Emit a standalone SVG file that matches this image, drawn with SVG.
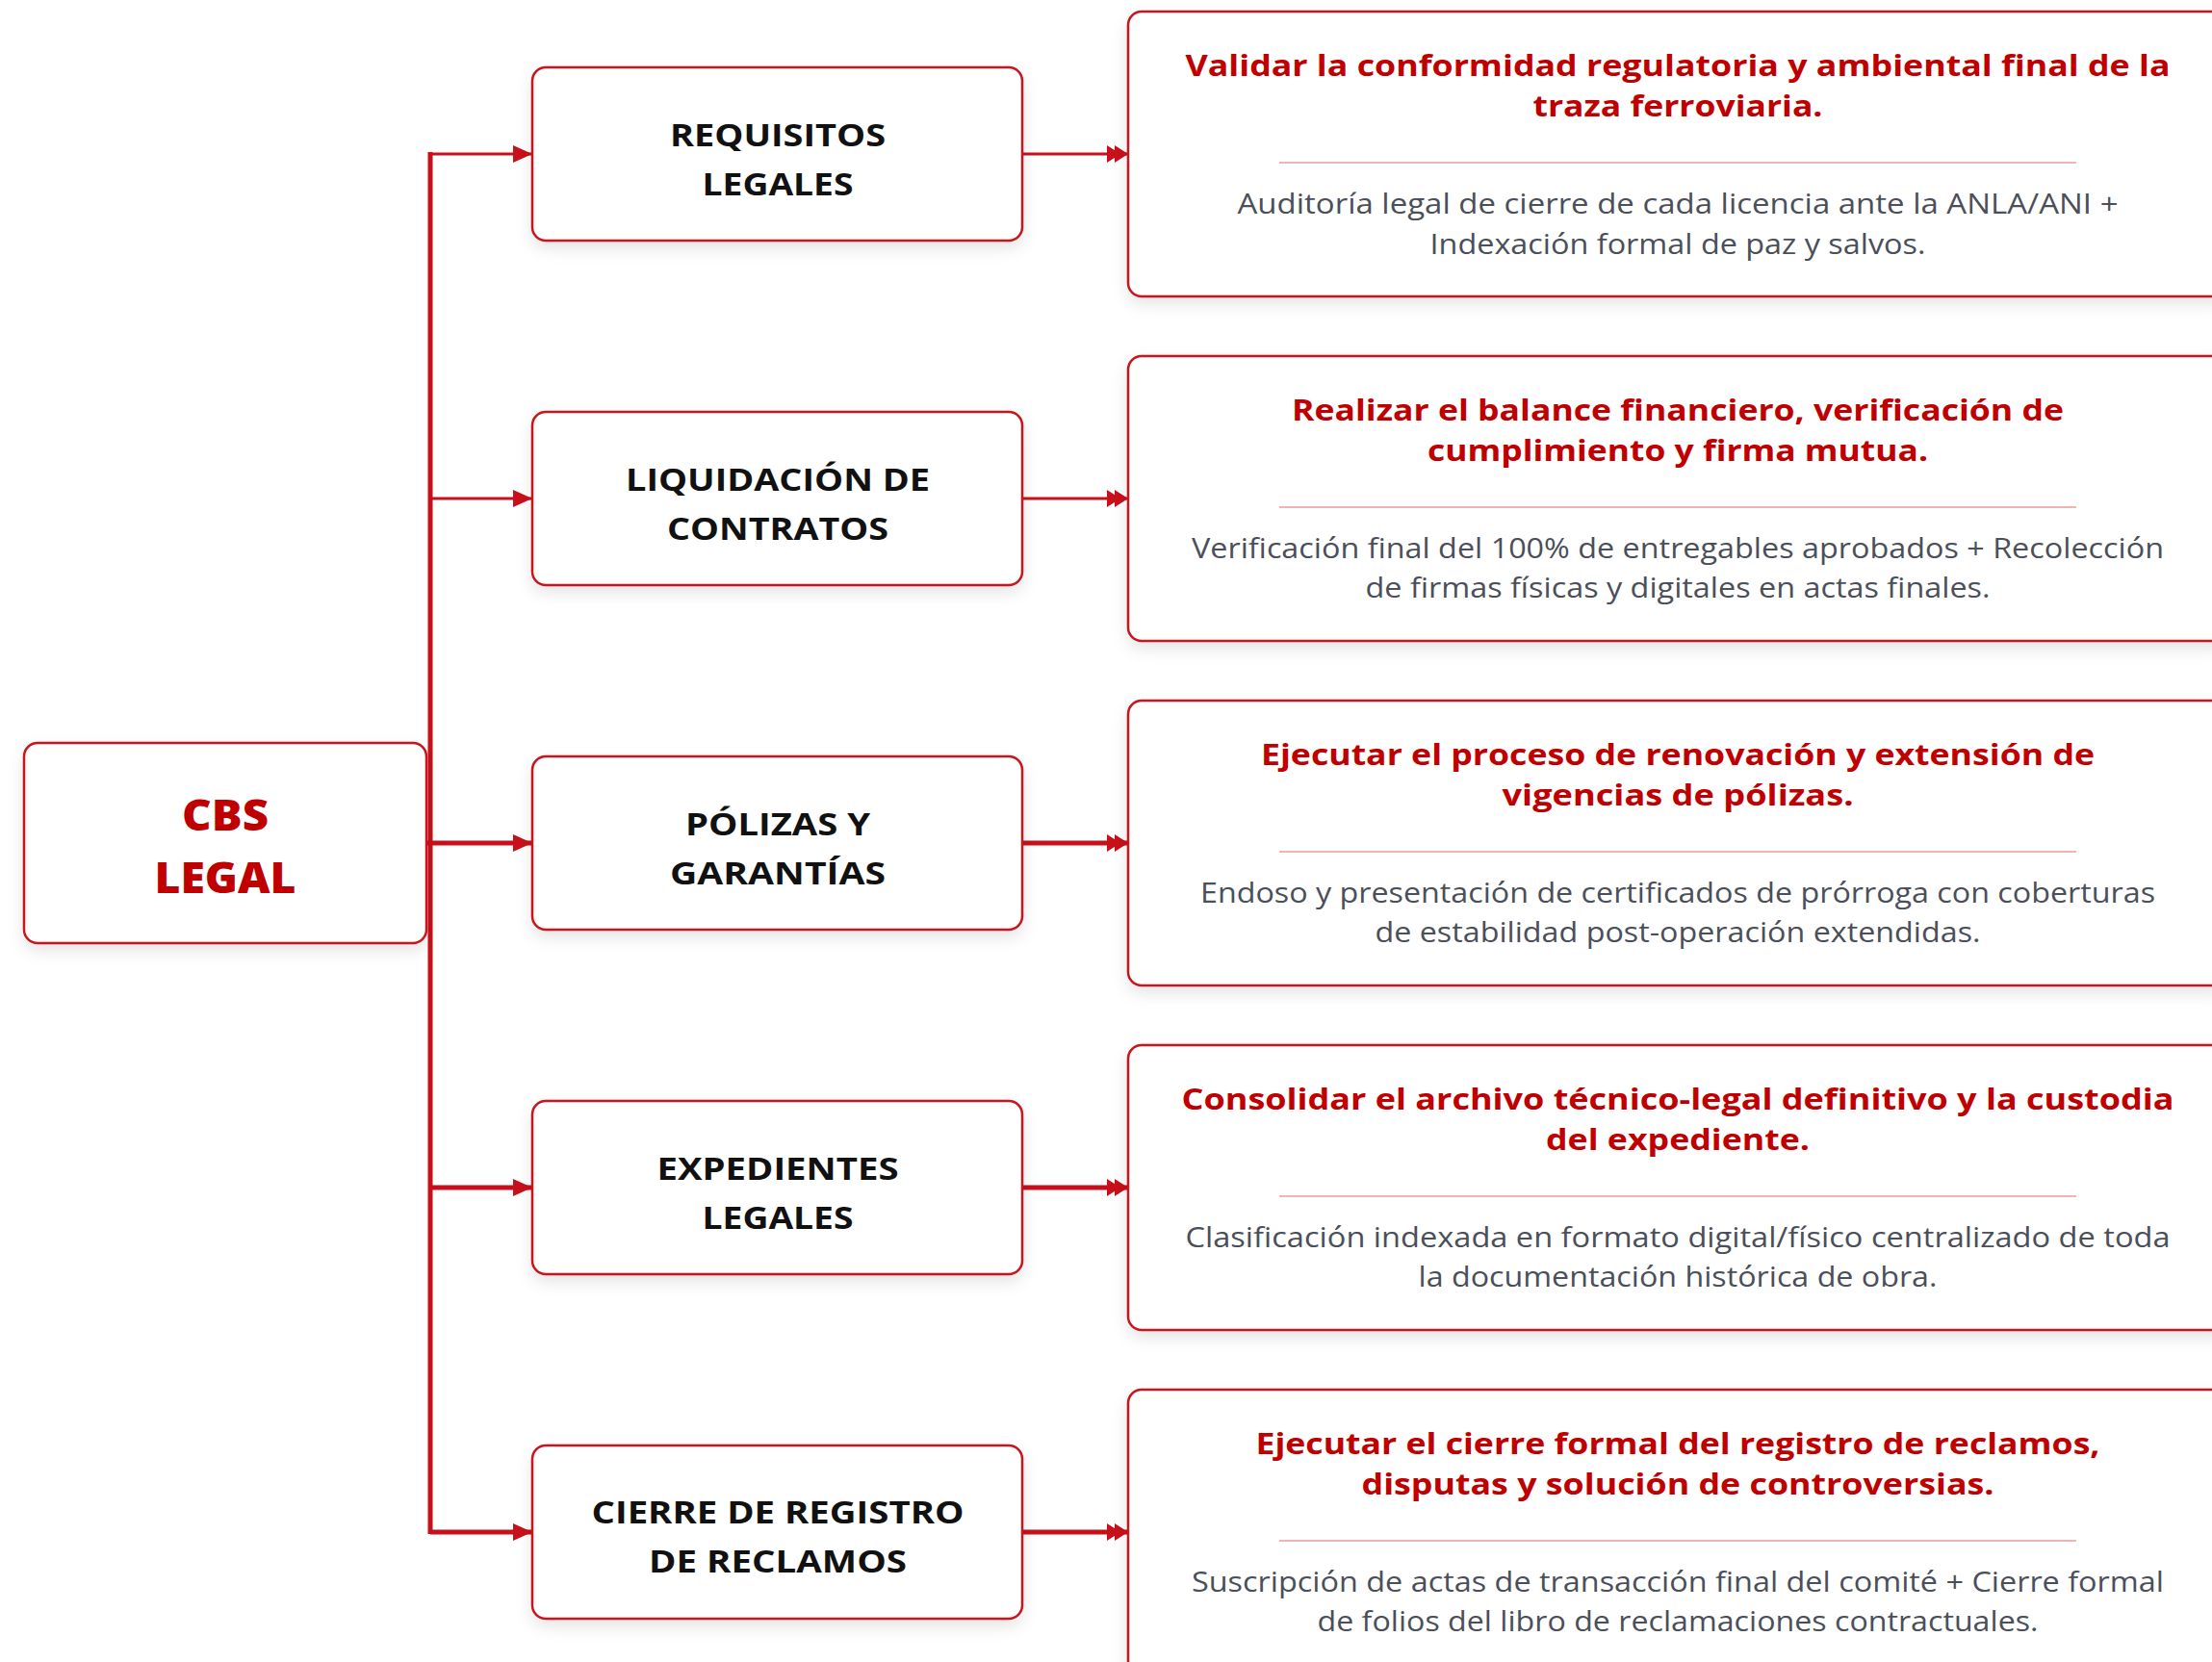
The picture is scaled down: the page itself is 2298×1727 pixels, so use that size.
<svg xmlns="http://www.w3.org/2000/svg" width="2298" height="1727" viewBox="0 0 2298 1727">
<style>
.box{fill:#ffffff;stroke:#c8141c;stroke-width:2.5;filter:url(#sh)}
.root{font-family:"Open Sans","Noto Sans",sans-serif;font-weight:800;font-size:44px;fill:#c00000;text-anchor:middle}
.lvl{font-family:"Open Sans","Noto Sans",sans-serif;font-weight:700;font-size:32px;fill:#111111;text-anchor:middle}
.ttl{font-family:"Open Sans","Noto Sans",sans-serif;font-weight:700;font-size:30px;fill:#c00000;text-anchor:middle}
.bdy{font-family:"Open Sans","Noto Sans",sans-serif;font-weight:400;font-size:29px;fill:#4a4f5a;text-anchor:middle}
.sep{stroke:#f0b4b4;stroke-width:2}
.con{fill:none;stroke:#c8101a;stroke-linejoin:miter}
</style>
<defs>
<filter id="sh" x="-10%" y="-10%" width="120%" height="130%">
<feDropShadow dx="0" dy="7" stdDeviation="8" flood-color="#000000" flood-opacity="0.10"/>
</filter>
<marker id="ah" markerUnits="userSpaceOnUse" markerWidth="20" markerHeight="20" refX="20" refY="10" orient="auto">
<path d="M0,1 L20,10 L0,19 z" fill="#c8101a"/>
</marker>
<marker id="ah2" markerUnits="userSpaceOnUse" markerWidth="22" markerHeight="20" refX="22" refY="10" orient="auto">
<path d="M0,1 L14,10 L0,19 z M8,1 L22,10 L8,19 z" fill="#c8101a"/>
</marker>
</defs>
<rect width="2298" height="1727" fill="#ffffff"/>

<g id="connectors">
<path class="con" stroke-width="5" d="M443,876 H447 M447,158 V1594"/>
<path class="con" stroke-width="3" d="M447,160 H553" marker-end="url(#ah)"/>
<path class="con" stroke-width="3" d="M447,518 H553" marker-end="url(#ah)"/>
<path class="con" stroke-width="5" d="M447,876 H553" marker-end="url(#ah)"/>
<path class="con" stroke-width="5" d="M447,1234 H553" marker-end="url(#ah)"/>
<path class="con" stroke-width="5" d="M447,1592 H553" marker-end="url(#ah)"/>
<path class="con" stroke-width="3" d="M1062,160 H1172" marker-end="url(#ah2)"/>
<path class="con" stroke-width="3" d="M1062,518 H1172" marker-end="url(#ah2)"/>
<path class="con" stroke-width="5" d="M1062,876 H1172" marker-end="url(#ah2)"/>
<path class="con" stroke-width="5" d="M1062,1234 H1172" marker-end="url(#ah2)"/>
<path class="con" stroke-width="5" d="M1062,1592 H1172" marker-end="url(#ah2)"/>
</g>

<g id="node-cbs-legal">
<rect class="box" x="25" y="772" width="418" height="208" rx="14"/>
<text class="root" x="234" y="863" textLength="90" lengthAdjust="spacingAndGlyphs">CBS</text>
<text class="root" x="234" y="928" textLength="147" lengthAdjust="spacingAndGlyphs">LEGAL</text>
</g>

<g id="node-requisitos">
<rect class="box" x="553" y="70" width="509" height="180" rx="14"/>
<text class="lvl" x="808" y="152" textLength="224" lengthAdjust="spacingAndGlyphs">REQUISITOS</text>
<text class="lvl" x="808" y="203" textLength="157" lengthAdjust="spacingAndGlyphs">LEGALES</text>
</g>
<g id="node-liquidacion">
<rect class="box" x="553" y="428" width="509" height="180" rx="14"/>
<text class="lvl" x="808" y="510" textLength="316" lengthAdjust="spacingAndGlyphs">LIQUIDACIÓN DE</text>
<text class="lvl" x="808" y="561" textLength="230" lengthAdjust="spacingAndGlyphs">CONTRATOS</text>
</g>
<g id="node-polizas">
<rect class="box" x="553" y="786" width="509" height="180" rx="14"/>
<text class="lvl" x="808" y="868" textLength="192" lengthAdjust="spacingAndGlyphs">PÓLIZAS Y</text>
<text class="lvl" x="808" y="919" textLength="224" lengthAdjust="spacingAndGlyphs">GARANTÍAS</text>
</g>
<g id="node-expedientes">
<rect class="box" x="553" y="1144" width="509" height="180" rx="14"/>
<text class="lvl" x="808" y="1226" textLength="251" lengthAdjust="spacingAndGlyphs">EXPEDIENTES</text>
<text class="lvl" x="808" y="1277" textLength="157" lengthAdjust="spacingAndGlyphs">LEGALES</text>
</g>
<g id="node-cierre">
<rect class="box" x="553" y="1502" width="509" height="180" rx="14"/>
<text class="lvl" x="808" y="1583" textLength="387" lengthAdjust="spacingAndGlyphs">CIERRE DE REGISTRO</text>
<text class="lvl" x="808" y="1634" textLength="268" lengthAdjust="spacingAndGlyphs">DE RECLAMOS</text>
</g>

<g id="detail-requisitos">
<rect class="box" x="1172" y="12" width="1142" height="296" rx="14"/>
<text class="ttl" x="1743" y="79" textLength="1023" lengthAdjust="spacingAndGlyphs">Validar la conformidad regulatoria y ambiental final de la</text>
<text class="ttl" x="1743" y="121" textLength="301" lengthAdjust="spacingAndGlyphs">traza ferroviaria.</text>
<line class="sep" x1="1329" y1="169" x2="2157" y2="169"/>
<text class="bdy" x="1743" y="222" textLength="915" lengthAdjust="spacingAndGlyphs">Auditoría legal de cierre de cada licencia ante la ANLA/ANI +</text>
<text class="bdy" x="1743" y="264" textLength="515" lengthAdjust="spacingAndGlyphs">Indexación formal de paz y salvos.</text>
</g>
<g id="detail-liquidacion">
<rect class="box" x="1172" y="370" width="1142" height="296" rx="14"/>
<text class="ttl" x="1743" y="437" textLength="802" lengthAdjust="spacingAndGlyphs">Realizar el balance financiero, verificación de</text>
<text class="ttl" x="1743" y="479" textLength="520" lengthAdjust="spacingAndGlyphs">cumplimiento y firma mutua.</text>
<line class="sep" x1="1329" y1="527" x2="2157" y2="527"/>
<text class="bdy" x="1743" y="580" textLength="1010" lengthAdjust="spacingAndGlyphs">Verificación final del 100% de entregables aprobados + Recolección</text>
<text class="bdy" x="1743" y="621" textLength="649" lengthAdjust="spacingAndGlyphs">de firmas físicas y digitales en actas finales.</text>
</g>
<g id="detail-polizas">
<rect class="box" x="1172" y="728" width="1142" height="296" rx="14"/>
<text class="ttl" x="1743" y="795" textLength="866" lengthAdjust="spacingAndGlyphs">Ejecutar el proceso de renovación y extensión de</text>
<text class="ttl" x="1743" y="837" textLength="365" lengthAdjust="spacingAndGlyphs">vigencias de pólizas.</text>
<line class="sep" x1="1329" y1="885" x2="2157" y2="885"/>
<text class="bdy" x="1743" y="938" textLength="992" lengthAdjust="spacingAndGlyphs">Endoso y presentación de certificados de prórroga con coberturas</text>
<text class="bdy" x="1743" y="979" textLength="629" lengthAdjust="spacingAndGlyphs">de estabilidad post-operación extendidas.</text>
</g>
<g id="detail-expedientes">
<rect class="box" x="1172" y="1086" width="1142" height="296" rx="14"/>
<text class="ttl" x="1743" y="1153" textLength="1031" lengthAdjust="spacingAndGlyphs">Consolidar el archivo técnico-legal definitivo y la custodia</text>
<text class="ttl" x="1743" y="1195" textLength="274" lengthAdjust="spacingAndGlyphs">del expediente.</text>
<line class="sep" x1="1329" y1="1243" x2="2157" y2="1243"/>
<text class="bdy" x="1743" y="1296" textLength="1023" lengthAdjust="spacingAndGlyphs">Clasificación indexada en formato digital/físico centralizado de toda</text>
<text class="bdy" x="1743" y="1337" textLength="539" lengthAdjust="spacingAndGlyphs">la documentación histórica de obra.</text>
</g>
<g id="detail-cierre">
<rect class="box" x="1172" y="1444" width="1142" height="296" rx="14"/>
<text class="ttl" x="1743" y="1511" textLength="877" lengthAdjust="spacingAndGlyphs">Ejecutar el cierre formal del registro de reclamos,</text>
<text class="ttl" x="1743" y="1553" textLength="657" lengthAdjust="spacingAndGlyphs">disputas y solución de controversias.</text>
<line class="sep" x1="1329" y1="1601" x2="2157" y2="1601"/>
<text class="bdy" x="1743" y="1654" textLength="1010" lengthAdjust="spacingAndGlyphs">Suscripción de actas de transacción final del comité + Cierre formal</text>
<text class="bdy" x="1743" y="1695" textLength="749" lengthAdjust="spacingAndGlyphs">de folios del libro de reclamaciones contractuales.</text>
</g>
</svg>
